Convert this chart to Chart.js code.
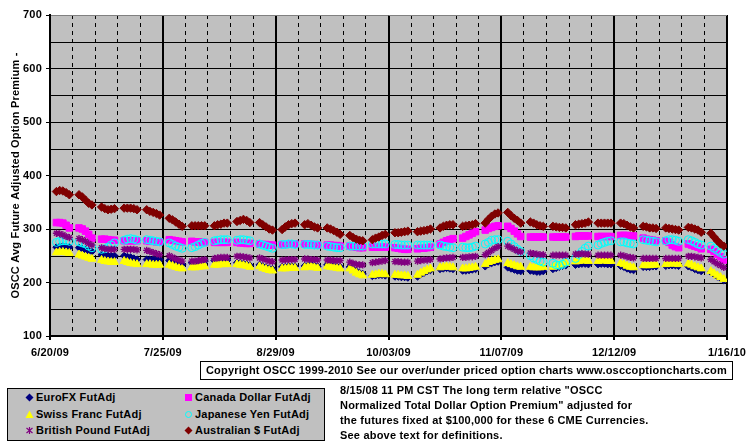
<!DOCTYPE html>
<html><head><meta charset="utf-8">
<script src="https://cdn.jsdelivr.net/npm/chart.js@4.4.0/dist/chart.umd.min.js"></script>
<style>
html,body{margin:0;padding:0;background:#fff;}
#wrap{position:relative;width:755px;height:446px;overflow:hidden;font-family:"Liberation Sans",Arial,sans-serif;font-weight:bold;font-size:11px;color:#000;letter-spacing:0.2px;}
canvas{position:absolute;left:0;top:0;}
#copy{position:absolute;left:200px;top:361px;width:531px;height:17px;border:1px solid #000;text-align:center;line-height:17px;white-space:nowrap;}
#legend{position:absolute;left:7px;top:388px;width:316px;height:51px;border:1px solid #000;background:#c0c0c0;}
.item{position:absolute;height:14px;line-height:14px;white-space:nowrap;}
.item svg{position:absolute;top:3px;}
.item span{position:absolute;left:0;}
#notes{position:absolute;left:340px;top:383px;line-height:15px;white-space:nowrap;}
</style></head>
<body>
<div id="wrap">
<canvas id="c" width="755" height="446"></canvas>
<div id="copy">Copyright OSCC 1999-2010 See our over/under priced option charts www.osccoptioncharts.com</div>
<div id="legend"></div>
<div id="notes">8/15/08 11 PM CST The long term relative "OSCC<br>Normalized Total Dollar Option Premium" adjusted for<br>the futures fixed at $100,000 for these 6 CME Currencies.<br>See above text for definitions.</div>
</div>
<script>
// ---------- DATA ----------
const xTickLabels = ['6/20/09','7/25/09','8/29/09','10/03/09','11/07/09','12/12/09','1/16/10'];
const yGridValues = [150,200,250,300,350,400,450,500,550,600,650,700];
const yAxisTitle = 'OSCC Avg Future Adjusted Option Premium -';
const seriesNames = ['EuroFX FutAdj','Canada Dollar FutAdj','Swiss Franc FutAdj','Japanese Yen FutAdj','British Pound FutAdj','Australian $ FutAdj'];

// one value per trading day (Mon-Fri), 30 weeks starting week of 6/20/09
const euroFX = [
266,267,268,267,266, 265,263,261,259,258, 252,251,250,250,250, 250,248,247,245,243,
243,243,243,243,243, 241,239,237,235,234, 237,237,238,239,240, 241,241,242,242,242,
237,236,235,234,232, 233,230,228,226,225, 229,229,230,230,230, 231,232,233,231,230,
233,232,231,230,229, 229,225,221,218,216, 212,213,214,214,213, 211,211,210,210,209,
211,215,218,221,223, 225,226,227,226,225, 222,222,223,224,225, 230,234,236,238,239,
228,226,224,222,221, 222,221,220,220,221, 225,227,229,231,232, 233,234,235,235,234,
234,235,235,234,234, 231,229,226,224,223, 229,229,229,230,230, 231,232,232,232,231,
230,228,225,223,221, 219,215,211,208,204];
const canadaDollar = [
312,312,311,307,302, 302,300,296,290,283, 281,281,280,279,279, 278,278,278,278,278,
278,277,277,276,276, 280,279,278,277,276, 277,276,276,275,275, 275,275,275,275,275,
275,274,274,273,273, 272,271,271,270,270, 271,271,272,272,272, 272,272,271,271,270,
270,270,269,269,268, 268,267,266,265,265, 266,266,266,266,266, 265,264,263,262,262,
263,264,264,265,266, 272,275,278,280,282, 283,286,289,292,295, 298,301,303,305,306,
305,301,296,291,286, 285,285,285,285,285, 285,285,285,285,285, 286,287,287,287,287,
286,286,286,286,286, 288,288,288,287,287, 283,281,280,279,278, 278,275,270,267,265,
272,270,268,266,263, 262,258,253,248,242];
const swissFranc = [
256,257,257,256,255, 252,250,248,246,244, 242,240,239,238,238, 240,238,236,235,234,
234,234,233,233,233, 233,231,229,227,226, 228,228,229,230,230, 233,233,234,234,234,
234,233,232,231,229, 230,227,225,223,222, 226,226,227,227,227, 228,229,230,228,227,
230,229,228,227,226, 226,222,218,215,213, 214,215,216,216,215, 214,214,213,213,212,
214,218,221,224,226, 228,229,230,229,228, 226,226,227,228,229, 234,238,240,242,243,
236,234,232,230,229, 229,228,228,228,229, 229,231,233,235,236, 239,240,241,241,240,
240,241,241,240,240, 236,234,231,229,228, 232,232,232,233,233, 234,235,235,235,234,
235,233,230,228,226, 221,217,213,210,206];
const japaneseYen = [
275,277,278,278,277, 276,274,272,268,265, 262,263,266,270,274, 279,281,282,281,279,
280,279,278,277,276, 274,271,268,266,264, 265,267,270,273,275, 278,279,280,280,280,
279,280,280,279,278, 272,270,268,266,264, 271,271,272,272,271, 271,271,271,270,270,
268,267,266,265,265, 268,268,268,268,268, 272,272,272,272,272, 271,271,270,270,270,
270,270,270,270,270, 270,268,267,266,265, 266,265,265,266,268, 272,275,279,280,280,
277,272,267,262,258, 250,246,243,240,238, 236,233,232,234,238, 245,252,258,264,268,
270,273,275,277,278, 276,276,274,273,272, 280,279,278,277,276, 278,280,280,279,277,
280,278,275,272,270, 268,264,260,256,253];
const britishPound = [
292,291,289,286,284, 282,280,277,273,270, 265,263,262,262,262, 262,262,262,262,261,
260,258,256,254,252, 250,247,244,242,240, 240,240,241,242,243, 245,246,247,247,247,
249,249,248,247,246, 246,244,242,240,239, 242,242,243,243,243, 244,244,243,243,242,
242,242,241,241,241, 238,236,234,233,233, 237,238,239,240,241, 239,239,238,238,238,
240,241,242,242,243, 244,245,246,246,247, 247,247,248,248,249, 252,256,260,264,267,
268,265,262,259,257, 255,254,253,252,252, 251,251,251,251,251, 253,253,254,253,253,
251,251,251,251,251, 251,250,248,247,246, 245,245,245,245,245, 245,245,245,245,245,
249,249,248,247,246, 243,239,235,232,228];
const australianDollar = [
370,372,371,368,364, 364,360,354,348,345, 341,338,336,337,338, 339,339,339,338,336,
336,333,331,329,326, 320,317,313,309,305, 306,306,306,306,306, 306,308,309,311,311,
314,316,318,316,312, 312,308,304,300,298, 299,304,308,310,311, 308,310,307,304,302,
302,300,297,294,290, 288,284,281,279,278, 280,283,285,288,290, 293,293,294,295,296,
295,296,297,298,300, 302,305,307,308,308, 305,306,307,308,310, 311,318,324,328,330,
331,325,320,316,311, 313,311,308,306,305, 305,304,303,303,302, 308,309,310,311,313,
311,311,311,311,311, 311,310,307,304,302, 305,304,302,302,301, 302,301,300,299,298,
303,302,300,298,294, 292,285,278,272,268];

// trading-day positions: days after 6/20/09 (a Saturday), Monday..Friday of each week
const tradingDays = [];
for (let w = 0; w < 30; w++) for (let d = 2; d <= 6; d++) tradingDays.push(7 * w + d);

// ---------- STYLE ----------
const seriesValues = [euroFX, canadaDollar, swissFranc, japaneseYen, britishPound, australianDollar];
const styles = [
  {bg:'#000080', bc:'#000080', ps:'rectRot', r:3.6, bw:1},
  {bg:'#FF00FF', bc:'#FF00FF', ps:'rect', r:4.6, bw:1},
  {bg:'#FFFF00', bc:'#FFFF00', ps:'triangle', r:4.6, bw:1},
  {bg:'rgba(0,0,0,0)', bc:'#00FFFF', ps:'circle', r:4, bw:1},
  {bg:'#800080', bc:'#800080', ps:'star', r:3.6, bw:1.4},
  {bg:'#800000', bc:'#800000', ps:'rectRot', r:4.2, bw:1}
];
const datasets = seriesValues.map((vals, i) => ({
  label: seriesNames[i],
  data: tradingDays.map((x, j) => ({x: x, y: vals[j]})),
  pointStyle: styles[i].ps,
  pointRadius: styles[i].r,
  pointHoverRadius: styles[i].r,
  backgroundColor: styles[i].bg,
  borderColor: styles[i].bc,
  borderWidth: styles[i].bw,
  showLine: false,
  order: 5 - i
}));

const FONT = {family: '"Liberation Sans", Arial, sans-serif', size: 11, weight: 'bold'};

// plot background + horizontal grid lines (positions from the y scale)
const bgPlugin = {
  id: 'plotBg',
  beforeDraw(chart) {
    const {ctx, chartArea: a} = chart;
    ctx.save();
    ctx.fillStyle = '#C0C0C0';
    ctx.fillRect(a.left, a.top, a.right - a.left, a.bottom - a.top);
    ctx.restore();
  },
  beforeDatasetsDraw(chart) {
    const {ctx, chartArea: a} = chart;
    const ys = chart.scales.y;
    ctx.save();
    ctx.lineWidth = 1;
    yGridValues.forEach(v => {
      const py = Math.round(ys.getPixelForValue(v)) + 0.5;
      ctx.strokeStyle = v === 700 ? '#808080' : '#000';
      ctx.beginPath();
      ctx.moveTo(a.left, py);
      ctx.lineTo(a.right, py);
      ctx.stroke();
    });
    ctx.restore();
  }
};

new Chart(document.getElementById('c'), {
  type: 'scatter',
  data: {datasets},
  plugins: [bgPlugin],
  options: {
    responsive: false,
    animation: false,
    devicePixelRatio: 1,
    layout: {padding: {left: 0, top: 15, right: 28, bottom: 0}},
    plugins: {legend: {display: false}, tooltip: {enabled: false}},
    events: [],
    scales: {
      x: {
        type: 'linear', position: 'bottom', min: 0, max: 210,
        afterFit: s => { s.height = 110; },
        ticks: {stepSize: 35, autoSkip: false, maxRotation: 0, color: '#000', font: FONT, padding: 6,
          callback: v => xTickLabels[Math.round(v / 35)]},
        grid: {color: '#000', lineWidth: 2, tickLength: 4, tickColor: '#000'},
        border: {color: '#000', width: 2}
      },
      xw: {
        type: 'linear', position: 'bottom', min: 0, max: 210,
        afterFit: s => { s.height = 0; },
        ticks: {stepSize: 7, display: false},
        grid: {drawTicks: false, lineWidth: 1,
          color: c => (c.tick && c.tick.value % 35 === 0) ? 'rgba(0,0,0,0)' : '#000'},
        border: {display: false, dash: [4, 4]}
      },
      y: {
        min: 100, max: 700,
        afterFit: s => { s.width = 50; },
        title: {display: true, text: yAxisTitle, color: '#000', font: FONT, padding: {top: 9, bottom: 0}},
        ticks: {stepSize: 100, autoSkip: false, color: '#000', font: FONT, padding: 4},
        grid: {lineWidth: 1, tickLength: 4, drawOnChartArea: false, tickColor: '#000'},
        border: {color: '#000', width: 2, z: 2}
      }
    }
  }
});

// ---------- LEGEND (HTML) ----------
const legendPos = [[0,0],[1,0],[0,1],[1,1],[0,2],[1,2]];
const markerSvg = [
  '<svg width="9" height="9"><polygon points="4.5,0.5 8.5,4.5 4.5,8.5 0.5,4.5" fill="#000080"/></svg>',
  '<svg width="9" height="9"><rect x="1" y="1" width="7" height="7" fill="#FF00FF"/></svg>',
  '<svg width="9" height="9"><polygon points="4.5,0.5 8.5,8 0.5,8" fill="#FFFF00"/></svg>',
  '<svg width="9" height="9"><circle cx="4.5" cy="4.5" r="3" fill="none" stroke="#00FFFF" stroke-width="1"/></svg>',
  '<svg width="9" height="9"><g stroke="#800080" stroke-width="1.2"><line x1="4.5" y1="1" x2="4.5" y2="8"/><line x1="1.5" y1="2" x2="7.5" y2="7"/><line x1="7.5" y1="2" x2="1.5" y2="7"/></g></svg>',
  '<svg width="9" height="9"><polygon points="4.5,0.5 8.5,4.5 4.5,8.5 0.5,4.5" fill="#800000"/></svg>'
];
const lg = document.getElementById('legend');
seriesNames.forEach((n, i) => {
  const [col, row] = legendPos[i];
  const d = document.createElement('div');
  d.className = 'item';
  d.style.left = (col ? 176 : 17) + 'px';
  d.style.top = (1 + row * 16.5) + 'px';
  d.innerHTML = markerSvg[i] + '<span style="left:11px">' + n + '</span>';
  lg.appendChild(d);
});
</script>
</body></html>
